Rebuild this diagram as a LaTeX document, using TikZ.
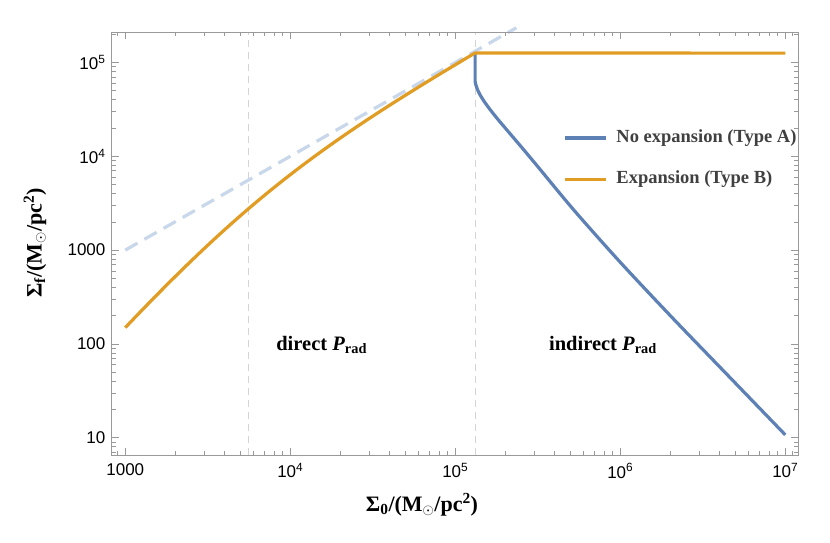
\documentclass[tikz,border=0pt]{standalone}
\usepackage{fontspec}
\setmainfont{Liberation Serif}
\newfontfamily\arial{Liberation Sans}
\definecolor{mblue}{HTML}{5E81B5}
\definecolor{morange}{HTML}{E19C24}
\definecolor{mdash}{HTML}{C9D7EB}
\definecolor{mgray}{HTML}{D4D4D4}
\definecolor{frame}{HTML}{999999}
\definecolor{legtxt}{HTML}{404040}
\begin{document}
\begin{tikzpicture}[x=1pt,y=1pt,
  curve/.style={line width=3.2pt,line join=round},
  tk/.style={frame,line width=0.7pt},
  ticklab/.style={font=\arial\fontsize{17}{17}\selectfont},
  lab/.style={font=\bfseries\fontsize{20.5}{20.5}\selectfont},
  legend/.style={font=\bfseries\fontsize{18.5}{18.5}\selectfont,text=legtxt,anchor=west}]
\fill[white] (0,0) rectangle (830,542);
\useasboundingbox (0,0) rectangle (830,542);
\begin{scope}[x=165pt,y=93.8pt,shift={(-369.7pt,10.5pt)}]
  % vertical guide lines
  \draw[mgray,line width=1.2pt,dash pattern=on 7pt off 5pt] (3.748,0.816) -- (3.748,5.325);
  \draw[mgray,line width=1.2pt,dash pattern=on 7pt off 5pt] (5.12,0.816) -- (5.12,5.325);
  % diagonal
  \draw[mdash,line width=3.2pt,dash pattern=on 14pt off 8pt] (3,3) -- (5.37,5.37);
  % blue curve
  \draw[curve,mblue] (5.12,5.10) -- (5.12,4.80) plot[smooth] coordinates {(5.12,4.80) (5.125,4.76) (5.135,4.71) (5.15,4.655) (5.175,4.585) (5.21,4.50) (5.26,4.39) (5.313,4.28) (5.4,4.10) (5.5,3.89) (5.717,3.43) (6.0,2.87) (6.32,2.27) (6.66,1.65) (7,1.03)};
  % orange
  \draw[curve,morange] plot[domain=3:5.12,samples=120] (\x,{\x-ln(1+pow(10,3.756-\x))/ln(10)}) -- (7,5.10);
  % frame
  \draw[frame,line width=0.9pt] (2.919,0.816) rectangle (7.079,5.325);
  % x ticks
  \foreach \d in {3,4,5,6,7}{
    \draw[tk] (\d,0.816) -- ++(0,7pt);
    \draw[tk] (\d,5.325) -- ++(0,-7pt);
  }
  \foreach \lx in {2.954,3.301,3.477,3.602,3.699,3.778,3.845,3.903,3.954,
                   4.301,4.477,4.602,4.699,4.778,4.845,4.903,4.954,
                   5.301,5.477,5.602,5.699,5.778,5.845,5.903,5.954,
                   6.301,6.477,6.602,6.699,6.778,6.845,6.903,6.954,7.041}{
    \draw[tk] (\lx,0.816) -- ++(0,4pt);
    \draw[tk] (\lx,5.325) -- ++(0,-4pt);
  }
  % y ticks
  \foreach \d in {1,2,3,4,5}{
    \draw[tk] (2.919,\d) -- ++(7pt,0);
    \draw[tk] (7.079,\d) -- ++(-7pt,0);
  }
  \foreach \ly in {0.845,0.903,0.954,
                   1.301,1.477,1.602,1.699,1.778,1.845,1.903,1.954,
                   2.301,2.477,2.602,2.699,2.778,2.845,2.903,2.954,
                   3.301,3.477,3.602,3.699,3.778,3.845,3.903,3.954,
                   4.301,4.477,4.602,4.699,4.778,4.845,4.903,4.954,5.301}{
    \draw[tk] (2.919,\ly) -- ++(4pt,0);
    \draw[tk] (7.079,\ly) -- ++(-4pt,0);
  }
  % tick labels
  \node[ticklab,below=5pt] (x3) at (3,0.816) {1000};
  \node[ticklab,below=5pt] (x4) at (4,0.816) {10\textsuperscript{4}};
  \node[ticklab,below=5pt] (x5) at (5,0.816) {10\textsuperscript{5}};
  \node[ticklab,below=5pt] (x6) at (6,0.816) {10\textsuperscript{6}};
  \node[ticklab,below=5pt] (x7) at (7,0.816) {10\textsuperscript{7}};
  \node[ticklab,left=3pt] (y1) at (2.919,1) {10};
  \node[ticklab,left=3pt] (y2) at (2.919,2) {100};
  \node[ticklab,left=3pt] (y3) at (2.919,3) {1000};
  \node[ticklab,left=3pt] (y4) at (2.919,4) {10\textsuperscript{4}};
  \node[ticklab,left=3pt] (y5) at (2.919,5) {10\textsuperscript{5}};
  % region labels
  \node[lab] (dir) at (4.19,1.99) {direct \textit{P}\textsubscript{rad}};
  \node[lab] (ind) at (5.895,1.99) {indirect \textit{P}\textsubscript{rad}};
  % legend
  \coordinate (l1a) at (5.664,4.196);
  \coordinate (l1b) at (5.912,4.196);
  \coordinate (l2a) at (5.664,3.755);
  \coordinate (l2b) at (5.912,3.755);
  \draw[curve,mblue] (l1a) -- (l1b);
  \draw[curve,morange] (l2a) -- (l2b);
  \node[legend] (t1) at (5.955,4.196) {No expansion (Type A)};
  \node[legend] (t2) at (5.955,3.755) {Expansion (Type B)};
\end{scope}
\node[font=\bfseries\fontsize{22}{22}\selectfont] (xl) at (422,37) {Σ$_{\mathbf{0}}$/(M$_{\odot}$/pc$^{\mathbf{2}}$)};
\node[font=\bfseries\fontsize{22}{22}\selectfont,rotate=90] (yl) at (35,299) {Σ$_{\mathbf{f}}$/(M$_{\odot}$/pc$^{\mathbf{2}}$)};
\end{tikzpicture}
\end{document}
